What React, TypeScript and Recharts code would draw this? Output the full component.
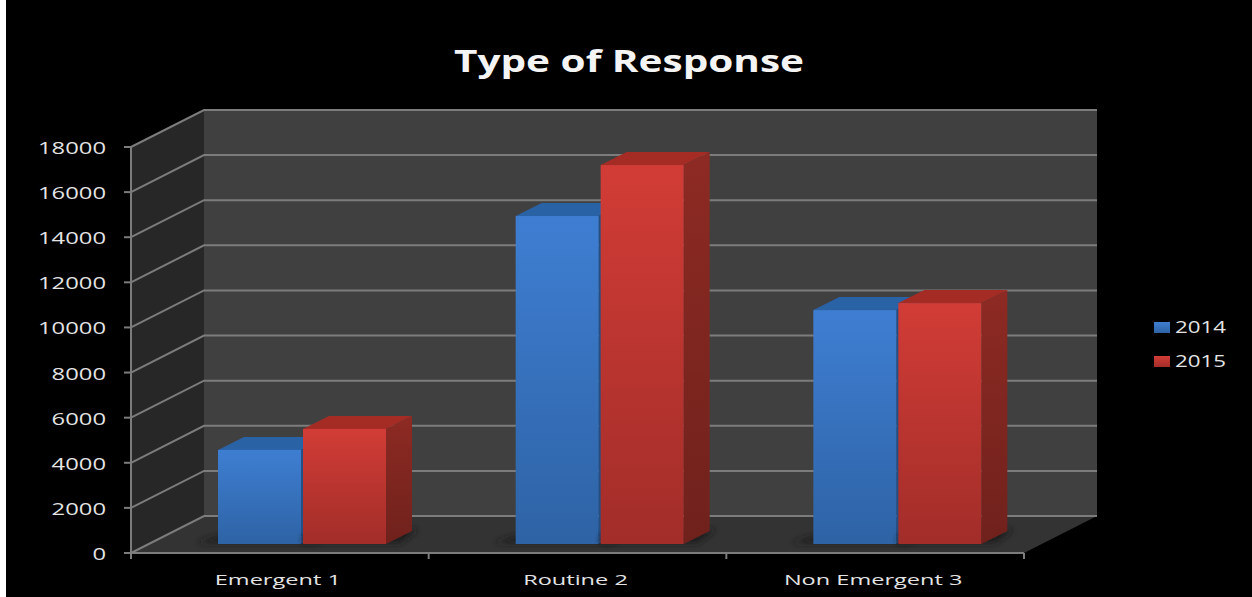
import React from "react";
import { BarChart, Bar, XAxis, YAxis, CartesianGrid } from "recharts";

const categories = ["Emergent 1", "Routine 2", "Non Emergent 3"];
const values2014 = [4170, 14540, 10370];
const values2015 = [5100, 16800, 10680];
const yTicks = [0, 2000, 4000, 6000, 8000, 10000, 12000, 14000, 16000, 18000];
const seriesNames = ["2014", "2015"];
const chartTitle = "Type of Response";

const rows = categories.map((name, i) => ({
  name,
  y2014: values2014[i],
  y2015: values2015[i],
}));

// Oblique projection of the chart box and of the bars standing inside it.
const WALL_DX = 73;
const WALL_DY = -37;
const BAR_DX = 22;
const BAR_DY = -9;
const SIDE_DX = 26;
const SIDE_DY = -13;
const LINE = "#7c7c7c";
const LABEL = "#e4e4e4";
const FONT = "'Open Sans', sans-serif";

const poly = (pts: number[][]) => pts.map((p) => p.join(",")).join(" ");

// Walls, floor, title, legend and the category separators share the plot box.
function Room({ x, y, width, height }: any) {
  const r = x + width;
  const b = y + height;
  const legendY = [327, 361];
  const legendFill = ["url(#face2014)", "url(#face2015)"];
  const separators = [0, 1, 2, 3].map((i) => x + (width * i) / categories.length);
  return (
    <g>
      <defs>
        <linearGradient id="face2014" x1="0" y1="0" x2="0" y2="1">
          <stop offset="0" stopColor="#3e7ed2" />
          <stop offset="1" stopColor="#2e63a5" />
        </linearGradient>
        <linearGradient id="face2015" x1="0" y1="0" x2="0" y2="1">
          <stop offset="0" stopColor="#d23c36" />
          <stop offset="1" stopColor="#a22d29" />
        </linearGradient>
        <linearGradient id="side2015" x1="0" y1="0" x2="0" y2="1">
          <stop offset="0" stopColor="#8d2a23" />
          <stop offset="1" stopColor="#70211c" />
        </linearGradient>
        <filter id="soft" x="-20%" y="-100%" width="140%" height="300%">
          <feGaussianBlur stdDeviation="3" />
        </filter>
      </defs>
      <polygon
        points={poly([[x, y], [x + WALL_DX, y + WALL_DY], [x + WALL_DX, b + WALL_DY], [x, b]])}
        fill="#272727"
      />
      <polygon
        points={poly([[x + WALL_DX, y + WALL_DY], [r + WALL_DX, y + WALL_DY], [r + WALL_DX, b + WALL_DY], [x + WALL_DX, b + WALL_DY]])}
        fill="#404040"
      />
      <polygon
        points={poly([[x, b], [x + WALL_DX, b + WALL_DY], [r + WALL_DX, b + WALL_DY], [r, b]])}
        fill="#333333"
      />
      {separators.map((sx) => (
        <line key={sx} x1={sx} y1={b} x2={sx} y2={b + 6} stroke={LINE} strokeWidth={2} />
      ))}
      <text
        x={629}
        y={72}
        textAnchor="middle"
        textLength={350}
        lengthAdjust="spacingAndGlyphs"
        fontFamily={FONT}
        fontWeight={700}
        fontSize={31}
        fill="#f4f4f4"
      >
        {chartTitle}
      </text>
      {seriesNames.map((name, i) => (
        <g key={name}>
          <rect x={1154} y={legendY[i] - 5} width={16} height={11} fill={legendFill[i]} />
          <text
            x={1175}
            y={legendY[i] + 6}
            textLength={51}
            lengthAdjust="spacingAndGlyphs"
            fontFamily={FONT}
            fontSize={17}
            fill={LABEL}
          >
            {name}
          </text>
        </g>
      ))}
    </g>
  );
}

// Each grid line runs along the side wall and then across the back wall.
// The first line also lays down the room, so the walls sit behind every line.
function GridLine(props: any) {
  const { x1, y1, x2, index, x, y, width, height } = props;
  const bx = x1 + WALL_DX;
  const by = y1 + WALL_DY;
  return (
    <g>
      {index === 0 ? <Room x={x} y={y} width={width} height={height} /> : null}
      <polyline
        points={poly([[x1, y1], [bx, by], [x2 + WALL_DX, by]])}
        fill="none"
        stroke={LINE}
        strokeWidth={2}
      />
    </g>
  );
}

function Box3D(props: any, face: string, top: string, side: string, shadowLeft: number) {
  const { x, y, width, height } = props;
  const l = x + BAR_DX;
  const t = y + BAR_DY;
  const r = l + width;
  const b = t + height;
  return (
    <g>
      <polygon
        points={poly([[l - shadowLeft, b - 1], [l, b - 8], [r + SIDE_DX + 6, b + SIDE_DY - 2], [r + 14, b - 1]])}
        fill="#1c1c1c"
        filter="url(#soft)"
      />
      <polygon points={poly([[l, t], [l + SIDE_DX, t + SIDE_DY], [r + SIDE_DX, t + SIDE_DY], [r, t]])} fill={top} />
      <polygon points={poly([[r, t], [r + SIDE_DX, t + SIDE_DY], [r + SIDE_DX, b + SIDE_DY], [r, b]])} fill={side} />
      <rect x={l} y={t} width={width} height={height} fill={face} />
    </g>
  );
}

const Bar2014 = (props: any) => Box3D(props, "url(#face2014)", "#2a62a6", "#234f87", 22);
const Bar2015 = (props: any) => Box3D(props, "url(#face2015)", "#a52c25", "url(#side2015)", 0);

function ValueTick(props: any) {
  const { x, y, payload } = props;
  const text = String(payload.value);
  return (
    <text
      x={x}
      y={y + 7}
      textAnchor="end"
      textLength={text.length * 13.6}
      lengthAdjust="spacingAndGlyphs"
      fontFamily={FONT}
      fontSize={17}
      fill={LABEL}
    >
      {text}
    </text>
  );
}

function CategoryTick(props: any) {
  const { x, y, payload } = props;
  return (
    <text
      transform={`translate(${x - 2},${y}) scale(1.57,1)`}
      textAnchor="middle"
      fontFamily={FONT}
      fontSize={15}
      fill={LABEL}
    >
      {payload.value}
    </text>
  );
}

export default function App() {
  return (
    <div style={{ position: "absolute", left: 0, top: 0, width: 1252, height: 597, background: "#ffffff" }}>
      <div style={{ position: "absolute", left: 6, top: 0, width: 1246, height: 597, background: "#000000" }} />
      <div style={{ position: "absolute", left: 0, top: 0 }}>
        <BarChart
          width={1252}
          height={597}
          data={rows}
          barSize={83}
          barGap={2}
          margin={{ top: 147, right: 228, bottom: 10, left: 38 }}
        >
          <CartesianGrid vertical={false} horizontal={GridLine as any} />
          <XAxis
            dataKey="name"
            height={34}
            tickLine={false}
            tickMargin={26}
            interval={0}
            stroke={LINE}
            strokeWidth={2}
            tick={CategoryTick as any}
          />
          <YAxis
            type="number"
            domain={[0, 18000]}
            ticks={yTicks}
            width={93}
            tickSize={7}
            tickMargin={18}
            interval={0}
            stroke={LINE}
            strokeWidth={2}
            tick={ValueTick as any}
          />
          <Bar dataKey="y2014" shape={Bar2014} isAnimationActive={false} />
          <Bar dataKey="y2015" shape={Bar2015} isAnimationActive={false} />
        </BarChart>
      </div>
    </div>
  );
}
